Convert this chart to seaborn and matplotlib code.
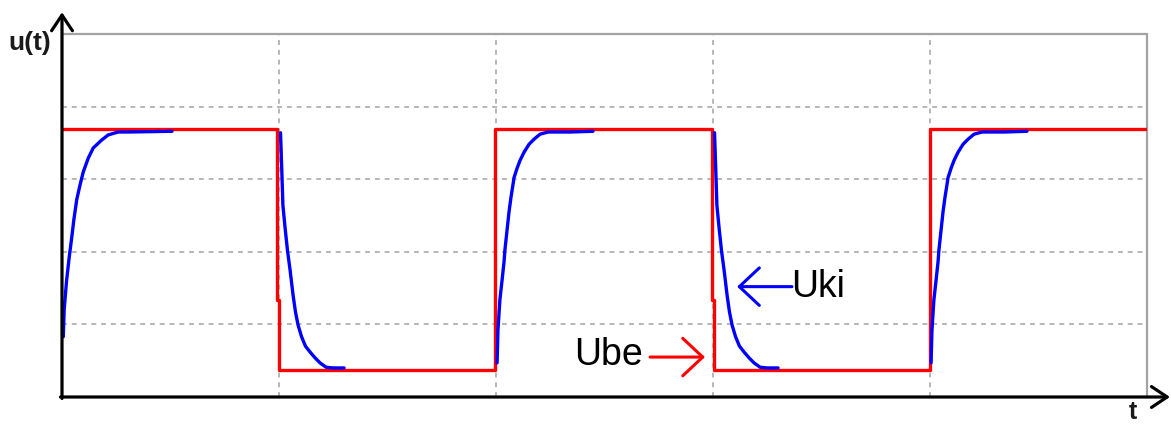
import numpy as np
import pandas as pd
import matplotlib
matplotlib.use("Agg")
import matplotlib.pyplot as plt
import seaborn as sns

# ---- signal data (time in periods, amplitude in grid divisions) ----
# Input square wave Ube (step corners)
ube_t = [0.0, 0.992, 0.992, 1.0, 1.0, 1.995, 1.995, 2.997, 2.997, 3.005, 3.005, 4.0, 4.0, 5.0]
ube_u = [3.69, 3.69, 1.34, 1.34, 0.37, 0.37, 3.69, 3.69, 1.34, 1.34, 0.37, 0.37, 3.69, 3.69]

# Output Uki: first rising transient (from the initial state)
uki_first_dt = [0.006, 0.010, 0.021, 0.033, 0.045, 0.055, 0.068, 0.083, 0.098, 0.121,
                0.144, 0.183, 0.213, 0.259, 0.304, 0.507]
uki_first_u = [0.83, 1.20, 1.60, 1.92, 2.20, 2.45, 2.72, 2.92, 3.10, 3.29,
               3.43, 3.54, 3.61, 3.65, 3.65, 3.66]

# Output Uki: rising transient after a low half-period
uki_rise_dt = [0.005, 0.009, 0.018, 0.028, 0.037, 0.041, 0.051, 0.060, 0.069, 0.078,
               0.083, 0.097, 0.111, 0.129, 0.152, 0.175, 0.203, 0.240, 0.341, 0.447]
uki_rise_u = [0.47, 0.92, 1.34, 1.61, 1.86, 2.02, 2.30, 2.55, 2.75, 2.92,
              3.02, 3.15, 3.26, 3.37, 3.48, 3.55, 3.62, 3.65, 3.65, 3.66]

# Output Uki: falling transient
uki_fall_dt = [0.007, 0.012, 0.018, 0.028, 0.039, 0.051, 0.065, 0.076, 0.088, 0.104,
               0.122, 0.143, 0.166, 0.189, 0.217, 0.249, 0.300]
uki_fall_u = [3.64, 3.20, 2.64, 2.33, 2.02, 1.75, 1.40, 1.17, 0.99, 0.83,
              0.70, 0.62, 0.54, 0.47, 0.41, 0.40, 0.40]

# Switching instants and which transient follows each
edge_times = [0, 1, 2, 3, 4]
edge_kinds = ["first", "fall", "rise", "fall", "rise"]

grid_levels = [1, 2, 3, 4]

profiles = {
    "first": (uki_first_dt, uki_first_u),
    "rise": (uki_rise_dt, uki_rise_u),
    "fall": (uki_fall_dt, uki_fall_u),
}

ube_df = pd.DataFrame({"t": ube_t, "u": ube_u})
frames = []
for i, (t0, kind) in enumerate(zip(edge_times, edge_kinds)):
    dt, u = profiles[kind]
    frames.append(pd.DataFrame({"t": np.asarray(dt) + t0, "u": u, "seg": i}))
uki_df = pd.concat(frames, ignore_index=True)

# ---- figure ----
sns.set_theme(style="white")
plt.rcParams["font.family"] = ["Liberation Sans", "DejaVu Sans"]

W, H = 1171, 425
fig = plt.figure(figsize=(W / 100, H / 100), dpi=100)
ax = fig.add_axes([62 / W, 28 / H, 1085 / W, 363 / H])
ax.set_xlim(0, 5)
ax.set_ylim(0, 5)
ax.set_axis_off()

grid_col = "#a3a3a3"
for g in grid_levels:
    ax.axhline(g, color=grid_col, lw=1.1, ls=(0, (3.2, 3.2)), zorder=1)
    ax.axvline(g, color=grid_col, lw=1.1, ls=(0, (3.2, 3.2)), zorder=1)
ax.axhline(5, color=grid_col, lw=1.6, zorder=1, clip_on=False)
ax.axvline(5, color=grid_col, lw=1.6, zorder=1, clip_on=False)

sns.lineplot(data=ube_df, x="t", y="u", sort=False, estimator=None,
             color="#ff0000", lw=2.4, ax=ax, zorder=3)
sns.lineplot(data=uki_df, x="t", y="u", units="seg", sort=False, estimator=None,
             color="#0000ff", lw=2.4, ax=ax, zorder=4)
ax.set_xlim(0, 5)
ax.set_ylim(0, 5)

# coordinate axes with open arrow heads
axis_arrow = dict(arrowstyle="->,head_length=0.75,head_width=0.5", lw=2.3,
                  color="black", shrinkA=0, shrinkB=0, mutation_scale=15)
ax.annotate("", xy=(0, 5.30), xytext=(0, -0.02), arrowprops=axis_arrow,
            annotation_clip=False, zorder=6)
ax.annotate("", xy=(5.106, 0), xytext=(-0.007, 0), arrowprops=axis_arrow,
            annotation_clip=False, zorder=6)

ax.text(-0.15, 4.87, "u(t)", fontsize=19, fontweight="bold", color="#1a1a1a",
        ha="center", va="center", clip_on=False)
ax.text(4.935, -0.30, "t", fontsize=18, fontweight="bold", color="#1a1a1a",
        ha="center", va="baseline", clip_on=False)

# signal labels with pointer arrows
label_arrow = "->,head_length=0.8,head_width=0.75"
ax.annotate("", xy=(3.111, 1.52), xytext=(3.364, 1.52),
            arrowprops=dict(arrowstyle=label_arrow, lw=2.2, color="#0000ff",
                            shrinkA=0, shrinkB=0, mutation_scale=18), zorder=5)
ax.text(3.360, 1.377, "Uki", fontsize=27, color="black", ha="left", va="baseline")

ax.annotate("", xy=(2.963, 0.55), xytext=(2.710, 0.55),
            arrowprops=dict(arrowstyle=label_arrow, lw=2.2, color="#ff0000",
                            shrinkA=0, shrinkB=0, mutation_scale=18), zorder=5)
ax.text(2.360, 0.44, "Ube", fontsize=27, color="black", ha="left", va="baseline")

fig.savefig("out.png", dpi=100)
